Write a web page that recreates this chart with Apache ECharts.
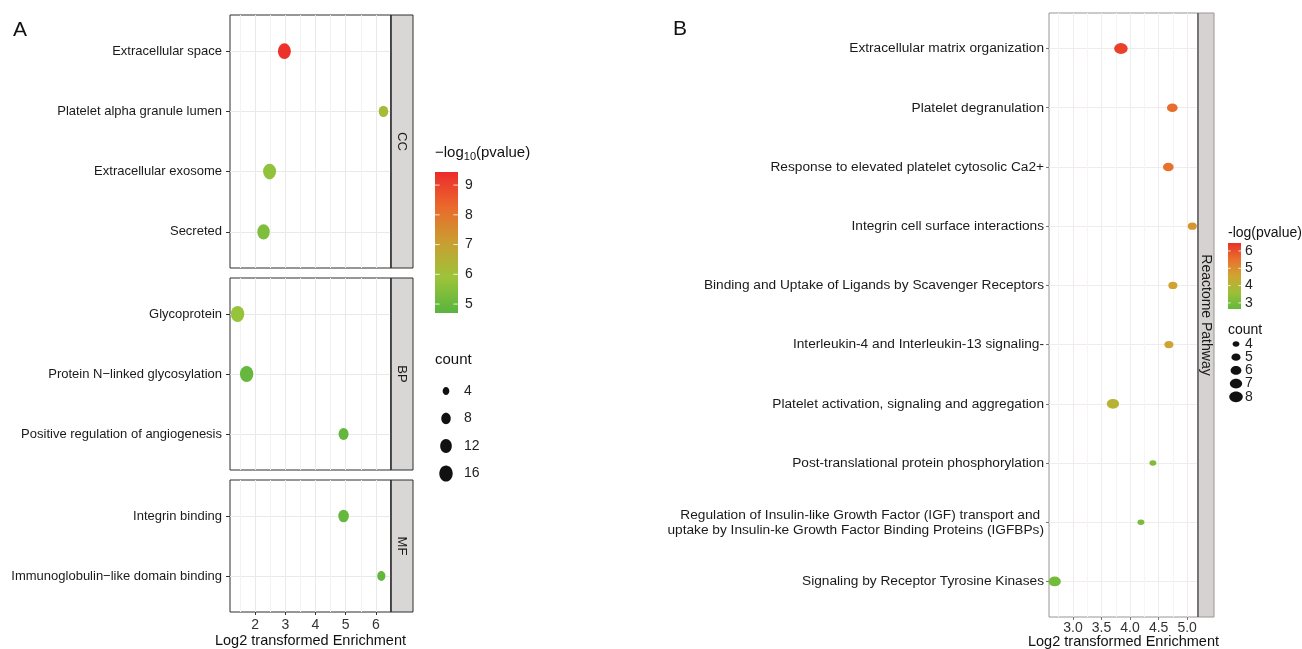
<!DOCTYPE html>
<html><head><meta charset="utf-8">
<script src="https://cdn.jsdelivr.net/npm/echarts@6/dist/echarts.min.js"></script>
<style>html,body{margin:0;padding:0;background:#fff}#c{width:1302px;height:649px}</style>
</head><body><div id="c"></div>
<script>
// ---------- Panel A data (GO terms) ----------
const ccTerms = ['Extracellular space', 'Platelet alpha granule lumen', 'Extracellular exosome', 'Secreted'];
const ccEnrich = [2.97, 6.25, 2.48, 2.28];
const ccLogP = [9.3, 6.2, 5.7, 5.4];
const ccCount = [15, 8, 15, 14];

const bpTerms = ['Glycoprotein', 'Protein N\u2212linked glycosylation', 'Positive regulation of angiogenesis'];
const bpEnrich = [1.42, 1.72, 4.93];
const bpLogP = [5.8, 4.95, 4.9];
const bpCount = [16, 16, 9];

const mfTerms = ['Integrin binding', 'Immunoglobulin\u2212like domain binding'];
const mfEnrich = [4.93, 6.18];
const mfLogP = [4.95, 4.9];
const mfCount = [10, 6];

const aXTicks = [2, 3, 4, 5, 6];
const aColorTicks = [5, 6, 7, 8, 9];
const aCountTicks = [4, 8, 12, 16];
const aColorRange = [4.70, 9.44];
const aColors = ['#58b43e', '#9cc43a', '#c99e31', '#ea6a2c', '#ec2b2b'];

// ---------- Panel B data (Reactome) ----------
const rxTerms = [
  'Extracellular matrix organization',
  'Platelet degranulation',
  'Response to elevated platelet cytosolic Ca2+',
  'Integrin cell surface interactions',
  'Binding and Uptake of Ligands by Scavenger Receptors',
  'Interleukin-4 and Interleukin-13 signaling-',
  'Platelet activation, signaling and aggregation',
  'Post-translational protein phosphorylation',
  'Regulation of Insulin-like Growth Factor (IGF) transport and \nuptake by Insulin-ke Growth Factor Binding Proteins (IGFBPs)',
  'Signaling by Receptor Tyrosine Kinases'
];
const rxEnrich = [3.84, 4.74, 4.67, 5.09, 4.75, 4.68, 3.70, 4.40, 4.19, 2.68];
const rxLogP = [6.2, 5.6, 5.5, 4.85, 4.6, 4.55, 4.1, 3.1, 3.05, 2.95];
const rxCount = [8, 6, 6, 5, 5, 5, 7, 4, 4, 7];

const bXTicks = [3.0, 3.5, 4.0, 4.5, 5.0];
const bColorTicks = [3, 4, 5, 6];
const bCountTicks = [4, 5, 6, 7, 8];
const bColorRange = [2.65, 6.46];
const bColors = ['#62b93b', '#9dbf38', '#cfa531', '#e8722c', '#e8302c'];

// ---------- helpers ----------
const FONT = '"Liberation Sans", Arial, Helvetica, sans-serif';
function sizeA(c) { const w = 3.35 * Math.sqrt(c); return [w, w * 1.2]; }
function sizeB(c) { const w = Math.sqrt(34 * (c - 2.6)); return [w, w * 0.8]; }
function minorOf(ticks, step, min, max) {
  const out = ticks.map(t => t - step / 2);
  out.push(ticks[ticks.length - 1] + step / 2);
  return out.filter(v => v > min + 1e-9 && v < max - 1e-9);
}
function colorAt(stops) {
  return stops.map((c, i) => ({ offset: i / (stops.length - 1), color: c }));
}

const chart = echarts.init(document.getElementById('c'));
const grids = [], xAxes = [], yAxes = [], series = [], graphics = [];

function addPanel(p) {
  const gi = grids.length;
  grids.push(Object.assign({ show: true, borderColor: p.border, borderWidth: 1, backgroundColor: '#ffffff', outerBoundsMode: 'none', containLabel: false }, p.box));
  const idxs = p.terms.map((t, i) => i);
  const minor = minorOf(p.ticks, p.step, p.xr[0], p.xr[1]);
  xAxes.push({
    type: 'value', gridIndex: gi, min: p.xr[0], max: p.xr[1], position: 'bottom',
    axisLine: { show: false, onZero: false },
    axisTick: { show: p.showX, length: 3, lineStyle: { color: p.tickColor }, customValues: p.ticks },
    axisLabel: { show: p.showX, customValues: p.ticks, formatter: v => p.fmt(v), fontSize: 14, color: '#333', margin: p.labMargin, fontFamily: FONT },
    splitLine: { show: true, lineStyle: { color: p.gridMajor, width: 1 } },
    name: p.showX ? 'Log2 transformed Enrichment' : '', nameLocation: 'middle', nameGap: p.nameGap, nameMoveOverlap: false,
    nameTextStyle: { fontSize: 14.5, color: '#111', fontFamily: FONT }
  });
  xAxes.push({
    type: 'value', gridIndex: gi, min: p.xr[0], max: p.xr[1], position: 'top',
    axisLine: { show: false, onZero: false }, axisTick: { show: false, customValues: minor },
    axisLabel: { show: false, customValues: minor },
    splitLine: { show: true, lineStyle: { color: p.gridMinor, width: 1 } }
  });
  yAxes.push({
    type: 'value', gridIndex: gi, inverse: true, min: -0.6, max: p.terms.length - 0.4,
    axisLine: { show: false, onZero: false },
    axisTick: { show: true, length: p.yTickLen, lineStyle: { color: p.tickColor }, customValues: idxs },
    axisLabel: { customValues: idxs, formatter: v => p.terms[Math.round(v)], fontSize: p.yFont, color: '#1a1a1a', margin: p.yMargin, lineHeight: 15, fontFamily: FONT, align: 'right' },
    splitLine: { show: true, lineStyle: { color: p.gridMajor, width: 1 } }
  });
  series.push({
    type: 'scatter', xAxisIndex: 2 * gi, yAxisIndex: gi, silent: true,
    data: p.terms.map((t, i) => [p.x[i], i, p.lp[i], p.cnt[i]]),
    symbol: 'circle', symbolSize: v => p.size(v[3]),
    itemStyle: { opacity: 1 }
  });
  // facet strip
  const sx = p.box.left + p.box.width;
  graphics.push({ type: 'rect', shape: { x: sx, y: p.box.top, width: p.stripW, height: p.box.height },
    style: { fill: p.stripFill, stroke: p.stripStroke, lineWidth: 1 }, z: 10 });
  graphics.push({ type: 'line', shape: { x1: sx, y1: p.box.top, x2: sx, y2: p.box.top + p.box.height },
    style: { stroke: p.innerLine, lineWidth: 1.2 }, z: 11 });
  graphics.push({ type: 'text', x: sx + p.stripW / 2, y: p.box.top + p.box.height / 2, rotation: -Math.PI / 2, z: 12,
    style: { text: p.strip, font: p.stripFont + 'px ' + FONT, fill: '#1a1a1a', align: 'center', verticalAlign: 'middle' } });
}

const aCommon = { xr: [1.17, 6.5], ticks: aXTicks, step: 1, fmt: v => String(v), size: sizeA,
  border: '#2e2e2e', tickColor: '#333', gridMajor: '#e9e9e9', gridMinor: '#f2f2f2',
  yFont: 13, yMargin: 8, yTickLen: 4, labMargin: 6, nameGap: 21,
  stripW: 22, stripFill: '#d9d6d6', stripStroke: '#2e2e2e', innerLine: '#2e2e2e', stripFont: 13 };
addPanel(Object.assign({}, aCommon, { terms: ccTerms, x: ccEnrich, lp: ccLogP, cnt: ccCount, strip: 'CC', showX: false,
  box: { left: 230, top: 15, width: 161, height: 253 } }));
addPanel(Object.assign({}, aCommon, { terms: bpTerms, x: bpEnrich, lp: bpLogP, cnt: bpCount, strip: 'BP', showX: false,
  box: { left: 230, top: 278, width: 161, height: 192 } }));
addPanel(Object.assign({}, aCommon, { terms: mfTerms, x: mfEnrich, lp: mfLogP, cnt: mfCount, strip: 'MF', showX: true,
  box: { left: 230, top: 480, width: 161, height: 132 } }));
addPanel({ terms: rxTerms, x: rxEnrich, lp: rxLogP, cnt: rxCount, strip: 'Reactome Pathway', showX: true,
  xr: [2.58, 5.19], ticks: bXTicks, step: 0.5, fmt: v => v.toFixed(1), size: sizeB,
  border: '#9a9594', tickColor: '#777', gridMajor: '#f0ecec', gridMinor: '#f6f4f4',
  yFont: 13.7, yMargin: 5, yTickLen: 3, labMargin: 4, nameGap: 17,
  stripW: 16, stripFill: '#d7d2d2', stripStroke: '#9a9594', innerLine: '#4a4a4a', stripFont: 14,
  box: { left: 1049, top: 13, width: 149, height: 604 } });

// ---------- panel letters ----------
graphics.push({ type: 'text', x: 13, y: 30, style: { text: 'A', font: '21px ' + FONT, fill: '#111', align: 'left', verticalAlign: 'middle' } });
graphics.push({ type: 'text', x: 673, y: 29, style: { text: 'B', font: '21px ' + FONT, fill: '#111', align: 'left', verticalAlign: 'middle' } });

// ---------- legends ----------
function colorbar(o) {
  const g = [];
  g.push({ type: 'rect', shape: { x: o.x, y: o.y, width: o.w, height: o.h },
    style: { fill: { type: 'linear', x: 0, y: 1, x2: 0, y2: 0, colorStops: colorAt(o.colors) } } });
  o.ticks.forEach(v => {
    const yy = o.y + o.h - (v - o.range[0]) / (o.range[1] - o.range[0]) * o.h;
    g.push({ type: 'line', shape: { x1: o.x, y1: yy, x2: o.x + o.w / 5, y2: yy }, style: { stroke: 'rgba(255,255,255,0.8)', lineWidth: 1 } });
    g.push({ type: 'line', shape: { x1: o.x + o.w * 4 / 5, y1: yy, x2: o.x + o.w, y2: yy }, style: { stroke: 'rgba(255,255,255,0.8)', lineWidth: 1 } });
    g.push({ type: 'text', x: o.labX, y: yy, style: { text: String(v), font: o.font + 'px ' + FONT, fill: '#222', align: 'left', verticalAlign: 'middle' } });
  });
  return g;
}
function sizeLegend(o) {
  const g = [];
  o.counts.forEach((c, i) => {
    const s = o.size(c), yy = o.y0 + i * o.dy;
    g.push({ type: 'ellipse', shape: { cx: o.cx, cy: yy, rx: s[0] / 2, ry: s[1] / 2 }, style: { fill: '#111' } });
    g.push({ type: 'text', x: o.labX, y: yy, style: { text: String(c), font: o.font + 'px ' + FONT, fill: '#222', align: 'left', verticalAlign: 'middle' } });
  });
  return g;
}
// A legend
graphics.push({ type: 'text', x: 435, y: 153, style: {
  text: '{a|\u2212log}{s|10}{a|(pvalue)}', align: 'left', verticalAlign: 'middle',
  rich: { a: { fontSize: 15, fontFamily: FONT, fill: '#111', color: '#111' },
          s: { fontSize: 11, fontFamily: FONT, fill: '#111', color: '#111', padding: [7, 0, 0, 0] } } } });
colorbar({ x: 435, y: 172, w: 23, h: 141, range: aColorRange, colors: aColors, ticks: aColorTicks, labX: 465, font: 14 }).forEach(e => graphics.push(e));
graphics.push({ type: 'text', x: 435, y: 360, style: { text: 'count', font: '15px ' + FONT, fill: '#111', align: 'left', verticalAlign: 'middle' } });
sizeLegend({ counts: aCountTicks, size: sizeA, cx: 446, y0: 391, dy: 27.5, labX: 464, font: 14 }).forEach(e => graphics.push(e));
// B legend
graphics.push({ type: 'text', x: 1228, y: 233, style: { text: '-log(pvalue)', font: '14px ' + FONT, fill: '#111', align: 'left', verticalAlign: 'middle' } });
colorbar({ x: 1228, y: 243, w: 13, h: 66, range: bColorRange, colors: bColors, ticks: bColorTicks, labX: 1245, font: 14 }).forEach(e => graphics.push(e));
graphics.push({ type: 'text', x: 1228, y: 330, style: { text: 'count', font: '14px ' + FONT, fill: '#111', align: 'left', verticalAlign: 'middle' } });
sizeLegend({ counts: bCountTicks, size: sizeB, cx: 1236, y0: 344, dy: 13.2, labX: 1245, font: 14 }).forEach(e => graphics.push(e));

chart.setOption({
  backgroundColor: '#ffffff',
  animation: false,
  textStyle: { fontFamily: FONT },
  grid: grids, xAxis: xAxes, yAxis: yAxes, series: series,
  visualMap: [
    { type: 'continuous', show: false, seriesIndex: [0, 1, 2], dimension: 2, min: aColorRange[0], max: aColorRange[1], inRange: { color: aColors } },
    { type: 'continuous', show: false, seriesIndex: [3], dimension: 2, min: bColorRange[0], max: bColorRange[1], inRange: { color: bColors } }
  ],
  graphic: { elements: graphics }
});
</script></body></html>
